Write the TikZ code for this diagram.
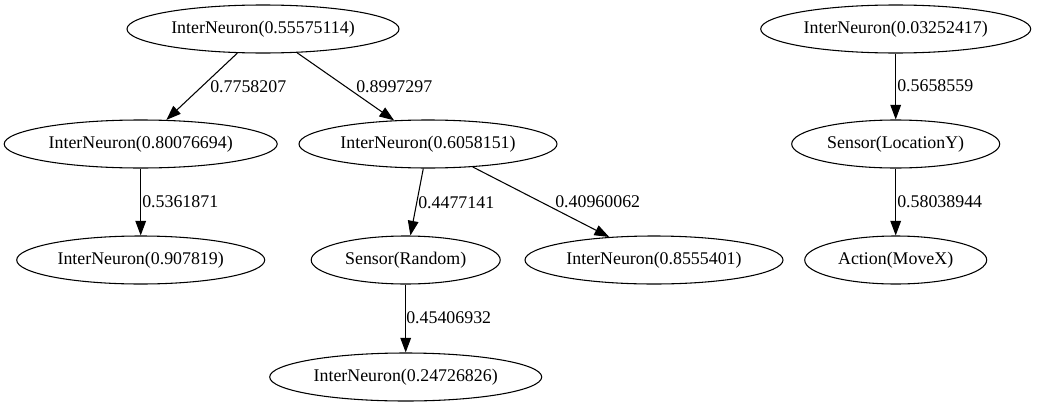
\documentclass[tikz,border=0pt]{standalone}
\usepackage{fontspec}
\setmainfont{Liberation Serif}
\usetikzlibrary{shapes.geometric,arrows.meta}
\begin{document}
\begin{tikzpicture}[x=0.75pt,y=-0.75pt,
  every node/.style={font=\fontsize{13.4}{16}\selectfont},
  nd/.style={draw,ellipse,inner sep=0pt,minimum height=36pt,minimum width=#1*0.75pt,line width=0.8pt},
  lbl/.style={anchor=west,inner sep=0pt},
  edge/.style={line width=0.8pt,-{Triangle[length=11pt,width=8pt]}}]
\useasboundingbox (0,0) rectangle (1037,407);
\node[nd=272] (a) at (263,29) {InterNeuron(0.55575114)};
\node[nd=273] (b) at (140.7,144) {InterNeuron(0.80076694)};
\node[nd=258] (c) at (428,144) {InterNeuron(0.6058151)};
\node[nd=248] (d) at (140.7,260) {InterNeuron(0.907819)};
\node[nd=189] (e) at (405.7,260) {Sensor(Random)};
\node[nd=258] (f) at (654,260) {InterNeuron(0.8555401)};
\node[nd=272] (g) at (405.7,377) {InterNeuron(0.24726826)};
\node[nd=270] (h) at (895.7,29) {InterNeuron(0.03252417)};
\node[nd=208] (i) at (895.7,144) {Sensor(LocationY)};
\node[nd=182] (j) at (895.7,260) {Action(MoveX)};
\draw[edge] (a) -- (b);
\draw[edge] (a) -- (c);
\draw[edge] (b) -- (d);
\draw[edge] (c) -- (e);
\draw[edge] (c) -- (f);
\draw[edge] (e) -- (g);
\draw[edge] (h) -- (i);
\draw[edge] (i) -- (j);
\node[lbl] (lab) at (210,87) {0.7758207};
\node[lbl] (lac) at (356,87) {0.8997297};
\node[lbl] (lbd) at (142,202) {0.5361871};
\node[lbl] (lce) at (418,203) {0.4477141};
\node[lbl] (lcf) at (555,202) {0.40960062};
\node[lbl] (leg) at (406,318) {0.45406932};
\node[lbl] (lhi) at (897,86) {0.5658559};
\node[lbl] (lij) at (897,202) {0.58038944};
\end{tikzpicture}
\end{document}
